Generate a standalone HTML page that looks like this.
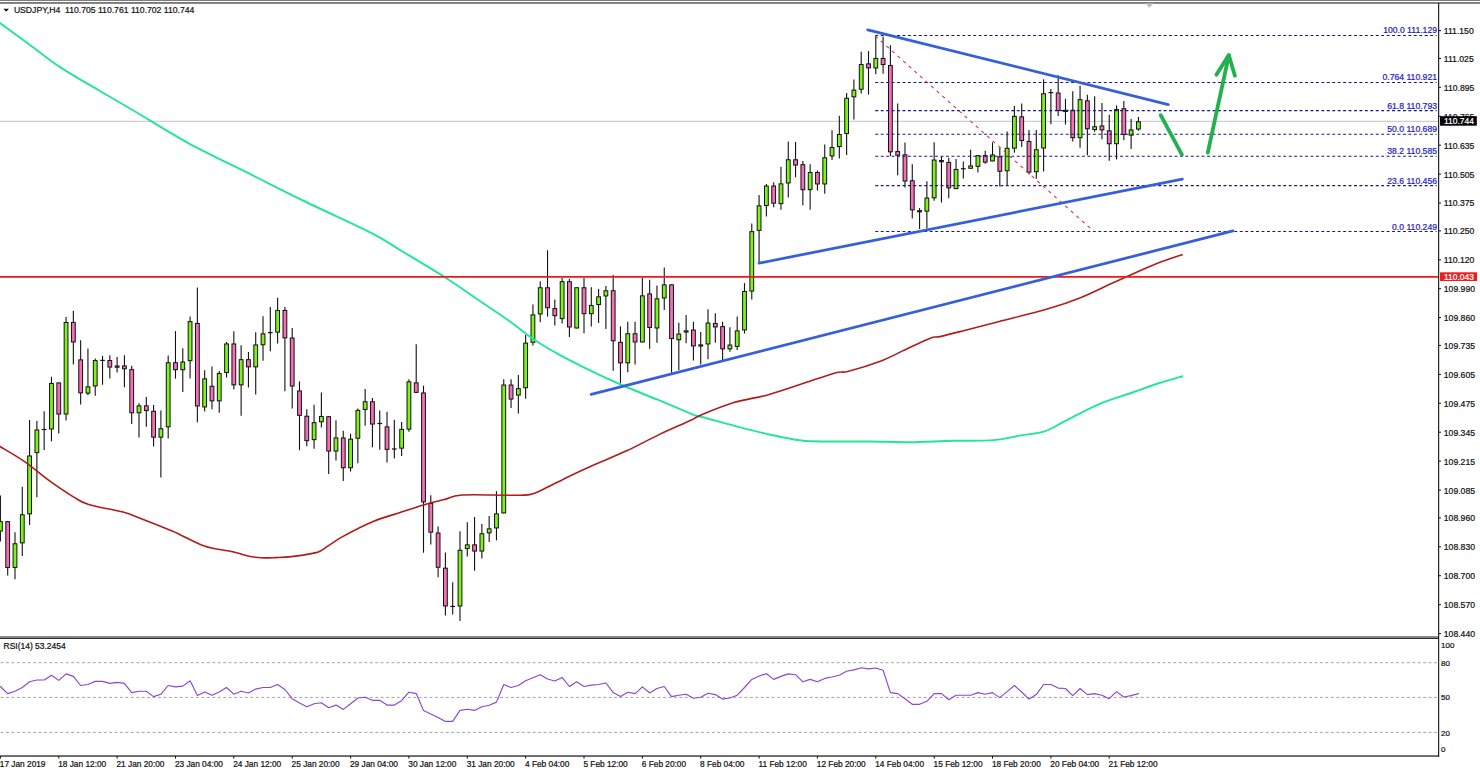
<!DOCTYPE html>
<html><head><meta charset="utf-8"><title>USDJPY H4</title>
<style>html,body{margin:0;padding:0;background:#fff;overflow:hidden}svg{display:block}</style></head>
<body>
<svg width="1480" height="772" viewBox="0 0 1480 772" font-family="Liberation Sans, Arial, sans-serif" font-size="8.65">
<rect width="1480" height="772" fill="#fff"/>
<rect x="0" y="0" width="1480" height="0.85" fill="#666"/>
<rect x="0" y="2.0" width="1480" height="1.85" fill="#787878"/>
<line x1="0" y1="121.3" x2="1438" y2="121.3" stroke="#c4c4c4" stroke-width="1"/>
<polygon points="1145.3,3.2 1153.5,3.2 1149.4,7.8" fill="#bdbdbd"/>
<line x1="0.40" y1="495.4" x2="0.40" y2="541.4" stroke="#111" stroke-width="1.1"/>
<rect x="-1.50" y="521.65" width="3.8" height="9.40" fill="#7CF418" stroke="#111" stroke-width="1"/>
<line x1="7.70" y1="521.2" x2="7.70" y2="575.5" stroke="#111" stroke-width="1.1"/>
<rect x="5.79" y="521.65" width="3.8" height="45.80" fill="#F56EB6" stroke="#111" stroke-width="1"/>
<line x1="14.99" y1="532.3" x2="14.99" y2="579.2" stroke="#111" stroke-width="1.1"/>
<rect x="13.09" y="543.75" width="3.8" height="23.70" fill="#7CF418" stroke="#111" stroke-width="1"/>
<line x1="22.28" y1="486.7" x2="22.28" y2="556.1" stroke="#111" stroke-width="1.1"/>
<rect x="20.38" y="514.75" width="3.8" height="28.10" fill="#7CF418" stroke="#111" stroke-width="1"/>
<line x1="29.58" y1="419.9" x2="29.58" y2="525.1" stroke="#111" stroke-width="1.1"/>
<rect x="27.68" y="455.95" width="3.8" height="57.90" fill="#7CF418" stroke="#111" stroke-width="1"/>
<line x1="36.88" y1="421.1" x2="36.88" y2="497.3" stroke="#111" stroke-width="1.1"/>
<rect x="34.98" y="429.95" width="3.8" height="22.70" fill="#7CF418" stroke="#111" stroke-width="1"/>
<line x1="44.17" y1="411.3" x2="44.17" y2="449.9" stroke="#111" stroke-width="1.1"/>
<line x1="41.82" y1="429.5" x2="46.52" y2="429.5" stroke="#111" stroke-width="1.2"/>
<line x1="51.46" y1="376.8" x2="51.46" y2="441.3" stroke="#111" stroke-width="1.1"/>
<rect x="49.56" y="383.45" width="3.8" height="45.60" fill="#7CF418" stroke="#111" stroke-width="1"/>
<line x1="58.76" y1="382.5" x2="58.76" y2="433.4" stroke="#111" stroke-width="1.1"/>
<rect x="56.86" y="382.95" width="3.8" height="31.10" fill="#F56EB6" stroke="#111" stroke-width="1"/>
<line x1="66.06" y1="317" x2="66.06" y2="420.4" stroke="#111" stroke-width="1.1"/>
<rect x="64.16" y="322.45" width="3.8" height="91.60" fill="#7CF418" stroke="#111" stroke-width="1"/>
<line x1="73.35" y1="310.7" x2="73.35" y2="364.5" stroke="#111" stroke-width="1.1"/>
<rect x="71.45" y="322.45" width="3.8" height="19.50" fill="#F56EB6" stroke="#111" stroke-width="1"/>
<line x1="80.65" y1="340.2" x2="80.65" y2="404.4" stroke="#111" stroke-width="1.1"/>
<rect x="78.75" y="359.85" width="3.8" height="33.00" fill="#F56EB6" stroke="#111" stroke-width="1"/>
<line x1="87.94" y1="348.5" x2="87.94" y2="395.3" stroke="#111" stroke-width="1.1"/>
<rect x="86.04" y="386.85" width="3.8" height="6.30" fill="#7CF418" stroke="#111" stroke-width="1"/>
<line x1="95.23" y1="358.4" x2="95.23" y2="395.8" stroke="#111" stroke-width="1.1"/>
<rect x="93.33" y="360.55" width="3.8" height="25.40" fill="#7CF418" stroke="#111" stroke-width="1"/>
<line x1="102.53" y1="355.9" x2="102.53" y2="384.7" stroke="#111" stroke-width="1.1"/>
<line x1="100.18" y1="360.4" x2="104.88" y2="360.4" stroke="#111" stroke-width="1.2"/>
<line x1="109.83" y1="355.2" x2="109.83" y2="378.6" stroke="#111" stroke-width="1.1"/>
<rect x="107.92" y="360.55" width="3.8" height="6.50" fill="#F56EB6" stroke="#111" stroke-width="1"/>
<line x1="117.12" y1="356.9" x2="117.12" y2="372.4" stroke="#111" stroke-width="1.1"/>
<rect x="115.22" y="365.95" width="3.8" height="1.30" fill="#7CF418" stroke="#111" stroke-width="1"/>
<line x1="124.42" y1="355.2" x2="124.42" y2="387.2" stroke="#111" stroke-width="1.1"/>
<rect x="122.52" y="365.95" width="3.8" height="2.80" fill="#F56EB6" stroke="#111" stroke-width="1"/>
<line x1="131.71" y1="365.8" x2="131.71" y2="424.1" stroke="#111" stroke-width="1.1"/>
<rect x="129.81" y="369.65" width="3.8" height="43.10" fill="#F56EB6" stroke="#111" stroke-width="1"/>
<line x1="139.00" y1="403.2" x2="139.00" y2="437.6" stroke="#111" stroke-width="1.1"/>
<rect x="137.10" y="405.85" width="3.8" height="6.90" fill="#7CF418" stroke="#111" stroke-width="1"/>
<line x1="146.30" y1="397" x2="146.30" y2="426.8" stroke="#111" stroke-width="1.1"/>
<rect x="144.40" y="405.85" width="3.8" height="4.70" fill="#F56EB6" stroke="#111" stroke-width="1"/>
<line x1="153.59" y1="405.1" x2="153.59" y2="446.5" stroke="#111" stroke-width="1.1"/>
<rect x="151.69" y="411.25" width="3.8" height="25.90" fill="#F56EB6" stroke="#111" stroke-width="1"/>
<line x1="160.89" y1="410.5" x2="160.89" y2="477.5" stroke="#111" stroke-width="1.1"/>
<rect x="158.99" y="428.75" width="3.8" height="8.40" fill="#7CF418" stroke="#111" stroke-width="1"/>
<line x1="168.19" y1="355.4" x2="168.19" y2="438.6" stroke="#111" stroke-width="1.1"/>
<rect x="166.28" y="362.75" width="3.8" height="64.10" fill="#7CF418" stroke="#111" stroke-width="1"/>
<line x1="175.48" y1="331.1" x2="175.48" y2="378.6" stroke="#111" stroke-width="1.1"/>
<rect x="173.58" y="362.75" width="3.8" height="7.00" fill="#F56EB6" stroke="#111" stroke-width="1"/>
<line x1="182.78" y1="348.3" x2="182.78" y2="392.1" stroke="#111" stroke-width="1.1"/>
<rect x="180.88" y="362.05" width="3.8" height="7.70" fill="#7CF418" stroke="#111" stroke-width="1"/>
<line x1="190.07" y1="316.6" x2="190.07" y2="378.6" stroke="#111" stroke-width="1.1"/>
<rect x="188.17" y="321.65" width="3.8" height="39.00" fill="#7CF418" stroke="#111" stroke-width="1"/>
<line x1="197.37" y1="287.4" x2="197.37" y2="422.2" stroke="#111" stroke-width="1.1"/>
<rect x="195.47" y="323.45" width="3.8" height="82.50" fill="#F56EB6" stroke="#111" stroke-width="1"/>
<line x1="204.66" y1="370.3" x2="204.66" y2="411.6" stroke="#111" stroke-width="1.1"/>
<rect x="202.76" y="378.85" width="3.8" height="28.10" fill="#7CF418" stroke="#111" stroke-width="1"/>
<line x1="211.96" y1="366.6" x2="211.96" y2="409.2" stroke="#111" stroke-width="1.1"/>
<rect x="210.06" y="386.25" width="3.8" height="14.60" fill="#F56EB6" stroke="#111" stroke-width="1"/>
<line x1="219.25" y1="371" x2="219.25" y2="412.8" stroke="#111" stroke-width="1.1"/>
<rect x="217.35" y="373.45" width="3.8" height="27.40" fill="#7CF418" stroke="#111" stroke-width="1"/>
<line x1="226.55" y1="342" x2="226.55" y2="377.4" stroke="#111" stroke-width="1.1"/>
<rect x="224.65" y="343.95" width="3.8" height="28.60" fill="#7CF418" stroke="#111" stroke-width="1"/>
<line x1="233.84" y1="331.2" x2="233.84" y2="389.5" stroke="#111" stroke-width="1.1"/>
<rect x="231.94" y="343.95" width="3.8" height="40.90" fill="#F56EB6" stroke="#111" stroke-width="1"/>
<line x1="241.13" y1="345.2" x2="241.13" y2="415.8" stroke="#111" stroke-width="1.1"/>
<rect x="239.23" y="359.65" width="3.8" height="25.20" fill="#7CF418" stroke="#111" stroke-width="1"/>
<line x1="248.43" y1="352.1" x2="248.43" y2="387.5" stroke="#111" stroke-width="1.1"/>
<rect x="246.53" y="359.65" width="3.8" height="7.20" fill="#F56EB6" stroke="#111" stroke-width="1"/>
<line x1="255.72" y1="332.2" x2="255.72" y2="394.4" stroke="#111" stroke-width="1.1"/>
<rect x="253.82" y="344.95" width="3.8" height="21.90" fill="#7CF418" stroke="#111" stroke-width="1"/>
<line x1="263.02" y1="316.2" x2="263.02" y2="360.7" stroke="#111" stroke-width="1.1"/>
<rect x="261.12" y="333.85" width="3.8" height="10.90" fill="#7CF418" stroke="#111" stroke-width="1"/>
<line x1="270.31" y1="307.1" x2="270.31" y2="351.3" stroke="#111" stroke-width="1.1"/>
<line x1="267.96" y1="332.6" x2="272.67" y2="332.6" stroke="#111" stroke-width="1.2"/>
<line x1="277.61" y1="297.7" x2="277.61" y2="343.5" stroke="#111" stroke-width="1.1"/>
<rect x="275.71" y="310.45" width="3.8" height="21.70" fill="#7CF418" stroke="#111" stroke-width="1"/>
<line x1="284.90" y1="307.1" x2="284.90" y2="391.2" stroke="#111" stroke-width="1.1"/>
<rect x="283.00" y="310.45" width="3.8" height="27.40" fill="#F56EB6" stroke="#111" stroke-width="1"/>
<line x1="292.20" y1="328" x2="292.20" y2="408.4" stroke="#111" stroke-width="1.1"/>
<rect x="290.30" y="338.05" width="3.8" height="48.00" fill="#F56EB6" stroke="#111" stroke-width="1"/>
<line x1="299.49" y1="381.4" x2="299.49" y2="450.2" stroke="#111" stroke-width="1.1"/>
<rect x="297.59" y="390.95" width="3.8" height="24.40" fill="#F56EB6" stroke="#111" stroke-width="1"/>
<line x1="306.79" y1="409.2" x2="306.79" y2="446.3" stroke="#111" stroke-width="1.1"/>
<rect x="304.89" y="416.25" width="3.8" height="24.40" fill="#F56EB6" stroke="#111" stroke-width="1"/>
<line x1="314.08" y1="404.7" x2="314.08" y2="448.8" stroke="#111" stroke-width="1.1"/>
<rect x="312.19" y="422.65" width="3.8" height="17.00" fill="#7CF418" stroke="#111" stroke-width="1"/>
<line x1="321.38" y1="392.4" x2="321.38" y2="427.6" stroke="#111" stroke-width="1.1"/>
<rect x="319.48" y="416.45" width="3.8" height="5.30" fill="#7CF418" stroke="#111" stroke-width="1"/>
<line x1="328.67" y1="416" x2="328.67" y2="474.1" stroke="#111" stroke-width="1.1"/>
<rect x="326.77" y="416.65" width="3.8" height="34.40" fill="#F56EB6" stroke="#111" stroke-width="1"/>
<line x1="335.97" y1="420.3" x2="335.97" y2="460.4" stroke="#111" stroke-width="1.1"/>
<rect x="334.07" y="437.95" width="3.8" height="13.10" fill="#7CF418" stroke="#111" stroke-width="1"/>
<line x1="343.26" y1="430.8" x2="343.26" y2="481" stroke="#111" stroke-width="1.1"/>
<rect x="341.37" y="437.95" width="3.8" height="29.80" fill="#F56EB6" stroke="#111" stroke-width="1"/>
<line x1="350.56" y1="433.8" x2="350.56" y2="471.4" stroke="#111" stroke-width="1.1"/>
<rect x="348.66" y="439.15" width="3.8" height="28.60" fill="#7CF418" stroke="#111" stroke-width="1"/>
<line x1="357.85" y1="408.5" x2="357.85" y2="463.3" stroke="#111" stroke-width="1.1"/>
<rect x="355.95" y="410.35" width="3.8" height="27.90" fill="#7CF418" stroke="#111" stroke-width="1"/>
<line x1="365.15" y1="389" x2="365.15" y2="425.7" stroke="#111" stroke-width="1.1"/>
<rect x="363.25" y="401.75" width="3.8" height="7.70" fill="#7CF418" stroke="#111" stroke-width="1"/>
<line x1="372.44" y1="398.1" x2="372.44" y2="447.3" stroke="#111" stroke-width="1.1"/>
<rect x="370.55" y="401.75" width="3.8" height="22.30" fill="#F56EB6" stroke="#111" stroke-width="1"/>
<line x1="379.74" y1="410.4" x2="379.74" y2="449.8" stroke="#111" stroke-width="1.1"/>
<line x1="377.39" y1="423.5" x2="382.09" y2="423.5" stroke="#111" stroke-width="1.2"/>
<line x1="387.03" y1="411.7" x2="387.03" y2="462.6" stroke="#111" stroke-width="1.1"/>
<rect x="385.13" y="426.85" width="3.8" height="22.50" fill="#F56EB6" stroke="#111" stroke-width="1"/>
<line x1="394.33" y1="419.8" x2="394.33" y2="458.4" stroke="#111" stroke-width="1.1"/>
<line x1="391.98" y1="449.0" x2="396.68" y2="449.0" stroke="#111" stroke-width="1.2"/>
<line x1="401.62" y1="422" x2="401.62" y2="455.9" stroke="#111" stroke-width="1.1"/>
<rect x="399.73" y="429.35" width="3.8" height="18.80" fill="#7CF418" stroke="#111" stroke-width="1"/>
<line x1="408.92" y1="379.2" x2="408.92" y2="431.8" stroke="#111" stroke-width="1.1"/>
<rect x="407.02" y="381.85" width="3.8" height="47.30" fill="#7CF418" stroke="#111" stroke-width="1"/>
<line x1="416.21" y1="344.3" x2="416.21" y2="392.8" stroke="#111" stroke-width="1.1"/>
<rect x="414.31" y="382.85" width="3.8" height="9.50" fill="#F56EB6" stroke="#111" stroke-width="1"/>
<line x1="423.51" y1="385.7" x2="423.51" y2="552.7" stroke="#111" stroke-width="1.1"/>
<rect x="421.61" y="392.95" width="3.8" height="108.90" fill="#F56EB6" stroke="#111" stroke-width="1"/>
<line x1="430.80" y1="495.2" x2="430.80" y2="544.4" stroke="#111" stroke-width="1.1"/>
<rect x="428.90" y="503.45" width="3.8" height="28.70" fill="#F56EB6" stroke="#111" stroke-width="1"/>
<line x1="438.10" y1="526.4" x2="438.10" y2="577.3" stroke="#111" stroke-width="1.1"/>
<rect x="436.20" y="533.05" width="3.8" height="34.20" fill="#F56EB6" stroke="#111" stroke-width="1"/>
<line x1="445.39" y1="552.5" x2="445.39" y2="615.5" stroke="#111" stroke-width="1.1"/>
<rect x="443.50" y="568.15" width="3.8" height="37.80" fill="#F56EB6" stroke="#111" stroke-width="1"/>
<line x1="452.69" y1="582.3" x2="452.69" y2="614.5" stroke="#111" stroke-width="1.1"/>
<line x1="450.34" y1="606.4" x2="455.04" y2="606.4" stroke="#111" stroke-width="1.2"/>
<line x1="459.98" y1="531.3" x2="459.98" y2="621.1" stroke="#111" stroke-width="1.1"/>
<rect x="458.08" y="550.25" width="3.8" height="55.70" fill="#7CF418" stroke="#111" stroke-width="1"/>
<line x1="467.28" y1="522.2" x2="467.28" y2="556.4" stroke="#111" stroke-width="1.1"/>
<rect x="465.38" y="544.85" width="3.8" height="3.70" fill="#7CF418" stroke="#111" stroke-width="1"/>
<line x1="474.57" y1="517" x2="474.57" y2="570.7" stroke="#111" stroke-width="1.1"/>
<rect x="472.68" y="544.85" width="3.8" height="6.20" fill="#F56EB6" stroke="#111" stroke-width="1"/>
<line x1="481.87" y1="524" x2="481.87" y2="558.4" stroke="#111" stroke-width="1.1"/>
<rect x="479.97" y="533.75" width="3.8" height="17.30" fill="#7CF418" stroke="#111" stroke-width="1"/>
<line x1="489.16" y1="516" x2="489.16" y2="541.9" stroke="#111" stroke-width="1.1"/>
<rect x="487.26" y="528.85" width="3.8" height="4.00" fill="#7CF418" stroke="#111" stroke-width="1"/>
<line x1="496.46" y1="491.2" x2="496.46" y2="540.4" stroke="#111" stroke-width="1.1"/>
<rect x="494.56" y="513.85" width="3.8" height="14.10" fill="#7CF418" stroke="#111" stroke-width="1"/>
<line x1="503.75" y1="379.2" x2="503.75" y2="513.4" stroke="#111" stroke-width="1.1"/>
<rect x="501.86" y="385.05" width="3.8" height="127.90" fill="#7CF418" stroke="#111" stroke-width="1"/>
<line x1="511.05" y1="379.2" x2="511.05" y2="408" stroke="#111" stroke-width="1.1"/>
<rect x="509.15" y="385.05" width="3.8" height="14.00" fill="#F56EB6" stroke="#111" stroke-width="1"/>
<line x1="518.35" y1="374.9" x2="518.35" y2="413.5" stroke="#111" stroke-width="1.1"/>
<rect x="516.45" y="388.65" width="3.8" height="6.40" fill="#7CF418" stroke="#111" stroke-width="1"/>
<line x1="525.64" y1="335" x2="525.64" y2="398.8" stroke="#111" stroke-width="1.1"/>
<rect x="523.74" y="343.15" width="3.8" height="44.60" fill="#7CF418" stroke="#111" stroke-width="1"/>
<line x1="532.93" y1="304.5" x2="532.93" y2="345.6" stroke="#111" stroke-width="1.1"/>
<rect x="531.03" y="314.85" width="3.8" height="27.40" fill="#7CF418" stroke="#111" stroke-width="1"/>
<line x1="540.23" y1="281.2" x2="540.23" y2="322.3" stroke="#111" stroke-width="1.1"/>
<rect x="538.33" y="287.75" width="3.8" height="26.20" fill="#7CF418" stroke="#111" stroke-width="1"/>
<line x1="547.52" y1="250.2" x2="547.52" y2="316.6" stroke="#111" stroke-width="1.1"/>
<rect x="545.62" y="287.75" width="3.8" height="20.00" fill="#F56EB6" stroke="#111" stroke-width="1"/>
<line x1="554.82" y1="299.4" x2="554.82" y2="325.4" stroke="#111" stroke-width="1.1"/>
<rect x="552.92" y="308.65" width="3.8" height="7.00" fill="#F56EB6" stroke="#111" stroke-width="1"/>
<line x1="562.12" y1="278" x2="562.12" y2="323.5" stroke="#111" stroke-width="1.1"/>
<rect x="560.22" y="281.65" width="3.8" height="37.00" fill="#7CF418" stroke="#111" stroke-width="1"/>
<line x1="569.41" y1="278.7" x2="569.41" y2="337" stroke="#111" stroke-width="1.1"/>
<rect x="567.51" y="281.65" width="3.8" height="45.30" fill="#F56EB6" stroke="#111" stroke-width="1"/>
<line x1="576.70" y1="287.3" x2="576.70" y2="328.4" stroke="#111" stroke-width="1.1"/>
<rect x="574.80" y="287.75" width="3.8" height="40.20" fill="#7CF418" stroke="#111" stroke-width="1"/>
<line x1="584.00" y1="278" x2="584.00" y2="333.3" stroke="#111" stroke-width="1.1"/>
<rect x="582.10" y="287.75" width="3.8" height="25.90" fill="#F56EB6" stroke="#111" stroke-width="1"/>
<line x1="591.29" y1="287.3" x2="591.29" y2="326.4" stroke="#111" stroke-width="1.1"/>
<rect x="589.39" y="305.45" width="3.8" height="8.20" fill="#7CF418" stroke="#111" stroke-width="1"/>
<line x1="598.59" y1="289" x2="598.59" y2="323" stroke="#111" stroke-width="1.1"/>
<rect x="596.69" y="296.85" width="3.8" height="7.70" fill="#7CF418" stroke="#111" stroke-width="1"/>
<line x1="605.88" y1="286.1" x2="605.88" y2="329.1" stroke="#111" stroke-width="1.1"/>
<rect x="603.99" y="290.75" width="3.8" height="5.20" fill="#7CF418" stroke="#111" stroke-width="1"/>
<line x1="613.18" y1="275" x2="613.18" y2="370.7" stroke="#111" stroke-width="1.1"/>
<rect x="611.28" y="290.75" width="3.8" height="50.00" fill="#F56EB6" stroke="#111" stroke-width="1"/>
<line x1="620.48" y1="326.4" x2="620.48" y2="383" stroke="#111" stroke-width="1.1"/>
<rect x="618.58" y="342.35" width="3.8" height="20.50" fill="#F56EB6" stroke="#111" stroke-width="1"/>
<line x1="627.77" y1="321.8" x2="627.77" y2="372.2" stroke="#111" stroke-width="1.1"/>
<rect x="625.87" y="333.75" width="3.8" height="29.10" fill="#7CF418" stroke="#111" stroke-width="1"/>
<line x1="635.06" y1="321.8" x2="635.06" y2="364.6" stroke="#111" stroke-width="1.1"/>
<rect x="633.16" y="333.75" width="3.8" height="8.20" fill="#F56EB6" stroke="#111" stroke-width="1"/>
<line x1="642.36" y1="278" x2="642.36" y2="342.4" stroke="#111" stroke-width="1.1"/>
<rect x="640.46" y="295.85" width="3.8" height="46.10" fill="#7CF418" stroke="#111" stroke-width="1"/>
<line x1="649.65" y1="279.7" x2="649.65" y2="348.8" stroke="#111" stroke-width="1.1"/>
<rect x="647.75" y="293.95" width="3.8" height="33.50" fill="#F56EB6" stroke="#111" stroke-width="1"/>
<line x1="656.95" y1="285.4" x2="656.95" y2="342.7" stroke="#111" stroke-width="1.1"/>
<rect x="655.05" y="298.85" width="3.8" height="29.10" fill="#7CF418" stroke="#111" stroke-width="1"/>
<line x1="664.25" y1="267.4" x2="664.25" y2="310" stroke="#111" stroke-width="1.1"/>
<rect x="662.35" y="284.85" width="3.8" height="13.10" fill="#7CF418" stroke="#111" stroke-width="1"/>
<line x1="671.54" y1="284.4" x2="671.54" y2="372.7" stroke="#111" stroke-width="1.1"/>
<rect x="669.64" y="284.85" width="3.8" height="53.70" fill="#F56EB6" stroke="#111" stroke-width="1"/>
<line x1="678.83" y1="322.7" x2="678.83" y2="370.2" stroke="#111" stroke-width="1.1"/>
<rect x="676.93" y="334.05" width="3.8" height="5.70" fill="#7CF418" stroke="#111" stroke-width="1"/>
<line x1="686.13" y1="314.9" x2="686.13" y2="343.2" stroke="#111" stroke-width="1.1"/>
<rect x="684.23" y="330.85" width="3.8" height="1.20" fill="#7CF418" stroke="#111" stroke-width="1"/>
<line x1="693.42" y1="321.8" x2="693.42" y2="360.4" stroke="#111" stroke-width="1.1"/>
<rect x="691.52" y="330.05" width="3.8" height="15.90" fill="#F56EB6" stroke="#111" stroke-width="1"/>
<line x1="700.72" y1="332.1" x2="700.72" y2="364.5" stroke="#111" stroke-width="1.1"/>
<rect x="698.82" y="344.85" width="3.8" height="1.20" fill="#7CF418" stroke="#111" stroke-width="1"/>
<line x1="708.01" y1="309.3" x2="708.01" y2="359.3" stroke="#111" stroke-width="1.1"/>
<rect x="706.12" y="323.05" width="3.8" height="20.90" fill="#7CF418" stroke="#111" stroke-width="1"/>
<line x1="715.31" y1="313.2" x2="715.31" y2="342.7" stroke="#111" stroke-width="1.1"/>
<rect x="713.41" y="323.45" width="3.8" height="3.50" fill="#F56EB6" stroke="#111" stroke-width="1"/>
<line x1="722.61" y1="321.8" x2="722.61" y2="359.9" stroke="#111" stroke-width="1.1"/>
<rect x="720.71" y="326.65" width="3.8" height="22.20" fill="#F56EB6" stroke="#111" stroke-width="1"/>
<line x1="729.90" y1="327.2" x2="729.90" y2="351.8" stroke="#111" stroke-width="1.1"/>
<rect x="728.00" y="345.05" width="3.8" height="3.80" fill="#7CF418" stroke="#111" stroke-width="1"/>
<line x1="737.19" y1="316.4" x2="737.19" y2="350.1" stroke="#111" stroke-width="1.1"/>
<rect x="735.29" y="330.85" width="3.8" height="15.60" fill="#7CF418" stroke="#111" stroke-width="1"/>
<line x1="744.49" y1="283.1" x2="744.49" y2="333.6" stroke="#111" stroke-width="1.1"/>
<rect x="742.59" y="291.45" width="3.8" height="38.50" fill="#7CF418" stroke="#111" stroke-width="1"/>
<line x1="751.78" y1="223.4" x2="751.78" y2="299.6" stroke="#111" stroke-width="1.1"/>
<rect x="749.88" y="231.65" width="3.8" height="59.40" fill="#7CF418" stroke="#111" stroke-width="1"/>
<line x1="759.08" y1="195" x2="759.08" y2="262.7" stroke="#111" stroke-width="1.1"/>
<rect x="757.18" y="205.85" width="3.8" height="24.50" fill="#7CF418" stroke="#111" stroke-width="1"/>
<line x1="766.38" y1="183.9" x2="766.38" y2="216.6" stroke="#111" stroke-width="1.1"/>
<rect x="764.48" y="186.05" width="3.8" height="19.50" fill="#7CF418" stroke="#111" stroke-width="1"/>
<line x1="773.67" y1="182.2" x2="773.67" y2="207.3" stroke="#111" stroke-width="1.1"/>
<rect x="771.77" y="186.05" width="3.8" height="17.10" fill="#F56EB6" stroke="#111" stroke-width="1"/>
<line x1="780.96" y1="166.7" x2="780.96" y2="209.7" stroke="#111" stroke-width="1.1"/>
<rect x="779.06" y="183.85" width="3.8" height="19.80" fill="#7CF418" stroke="#111" stroke-width="1"/>
<line x1="788.26" y1="141.4" x2="788.26" y2="197.4" stroke="#111" stroke-width="1.1"/>
<rect x="786.36" y="159.75" width="3.8" height="23.20" fill="#7CF418" stroke="#111" stroke-width="1"/>
<line x1="795.55" y1="142.1" x2="795.55" y2="177.3" stroke="#111" stroke-width="1.1"/>
<rect x="793.65" y="159.75" width="3.8" height="5.30" fill="#F56EB6" stroke="#111" stroke-width="1"/>
<line x1="802.85" y1="161" x2="802.85" y2="205.3" stroke="#111" stroke-width="1.1"/>
<rect x="800.95" y="164.65" width="3.8" height="25.00" fill="#F56EB6" stroke="#111" stroke-width="1"/>
<line x1="810.14" y1="164.2" x2="810.14" y2="209.7" stroke="#111" stroke-width="1.1"/>
<rect x="808.25" y="172.55" width="3.8" height="17.10" fill="#7CF418" stroke="#111" stroke-width="1"/>
<line x1="817.44" y1="170.4" x2="817.44" y2="190.6" stroke="#111" stroke-width="1.1"/>
<rect x="815.54" y="172.55" width="3.8" height="11.40" fill="#F56EB6" stroke="#111" stroke-width="1"/>
<line x1="824.74" y1="144.6" x2="824.74" y2="193.8" stroke="#111" stroke-width="1.1"/>
<rect x="822.84" y="157.75" width="3.8" height="26.20" fill="#7CF418" stroke="#111" stroke-width="1"/>
<line x1="832.03" y1="130.3" x2="832.03" y2="160" stroke="#111" stroke-width="1.1"/>
<rect x="830.13" y="147.45" width="3.8" height="8.50" fill="#7CF418" stroke="#111" stroke-width="1"/>
<line x1="839.32" y1="115.8" x2="839.32" y2="158.6" stroke="#111" stroke-width="1.1"/>
<rect x="837.42" y="134.45" width="3.8" height="12.10" fill="#7CF418" stroke="#111" stroke-width="1"/>
<line x1="846.62" y1="93.1" x2="846.62" y2="154.9" stroke="#111" stroke-width="1.1"/>
<rect x="844.72" y="98.25" width="3.8" height="35.30" fill="#7CF418" stroke="#111" stroke-width="1"/>
<line x1="853.91" y1="79.4" x2="853.91" y2="119.5" stroke="#111" stroke-width="1.1"/>
<rect x="852.01" y="90.15" width="3.8" height="6.70" fill="#7CF418" stroke="#111" stroke-width="1"/>
<line x1="861.21" y1="51.8" x2="861.21" y2="93.6" stroke="#111" stroke-width="1.1"/>
<rect x="859.31" y="64.55" width="3.8" height="24.70" fill="#7CF418" stroke="#111" stroke-width="1"/>
<line x1="868.50" y1="51.1" x2="868.50" y2="94.6" stroke="#111" stroke-width="1.1"/>
<rect x="866.61" y="63.85" width="3.8" height="4.00" fill="#F56EB6" stroke="#111" stroke-width="1"/>
<line x1="875.80" y1="35.9" x2="875.80" y2="74.2" stroke="#111" stroke-width="1.1"/>
<rect x="873.90" y="58.45" width="3.8" height="9.50" fill="#7CF418" stroke="#111" stroke-width="1"/>
<line x1="883.09" y1="36.6" x2="883.09" y2="73.7" stroke="#111" stroke-width="1.1"/>
<rect x="881.19" y="58.45" width="3.8" height="6.10" fill="#F56EB6" stroke="#111" stroke-width="1"/>
<line x1="890.39" y1="45.2" x2="890.39" y2="156.3" stroke="#111" stroke-width="1.1"/>
<rect x="888.49" y="65.45" width="3.8" height="86.40" fill="#F56EB6" stroke="#111" stroke-width="1"/>
<line x1="897.68" y1="103.5" x2="897.68" y2="175.3" stroke="#111" stroke-width="1.1"/>
<rect x="895.78" y="151.55" width="3.8" height="3.70" fill="#F56EB6" stroke="#111" stroke-width="1"/>
<line x1="904.98" y1="142.5" x2="904.98" y2="187.4" stroke="#111" stroke-width="1.1"/>
<rect x="903.08" y="154.85" width="3.8" height="26.20" fill="#F56EB6" stroke="#111" stroke-width="1"/>
<line x1="912.27" y1="164.2" x2="912.27" y2="218.5" stroke="#111" stroke-width="1.1"/>
<rect x="910.38" y="180.75" width="3.8" height="29.10" fill="#F56EB6" stroke="#111" stroke-width="1"/>
<line x1="919.57" y1="208" x2="919.57" y2="229.1" stroke="#111" stroke-width="1.1"/>
<rect x="917.67" y="210.65" width="3.8" height="1.20" fill="#F56EB6" stroke="#111" stroke-width="1"/>
<line x1="926.87" y1="181.2" x2="926.87" y2="228.4" stroke="#111" stroke-width="1.1"/>
<rect x="924.97" y="198.05" width="3.8" height="13.10" fill="#7CF418" stroke="#111" stroke-width="1"/>
<line x1="934.16" y1="142.3" x2="934.16" y2="200.7" stroke="#111" stroke-width="1.1"/>
<rect x="932.26" y="160.05" width="3.8" height="37.80" fill="#7CF418" stroke="#111" stroke-width="1"/>
<line x1="941.45" y1="156.4" x2="941.45" y2="202.5" stroke="#111" stroke-width="1.1"/>
<rect x="939.55" y="160.55" width="3.8" height="1.20" fill="#F56EB6" stroke="#111" stroke-width="1"/>
<line x1="948.75" y1="157.7" x2="948.75" y2="198.3" stroke="#111" stroke-width="1.1"/>
<rect x="946.85" y="162.45" width="3.8" height="25.40" fill="#F56EB6" stroke="#111" stroke-width="1"/>
<line x1="956.04" y1="158.9" x2="956.04" y2="189.1" stroke="#111" stroke-width="1.1"/>
<rect x="954.14" y="169.45" width="3.8" height="19.20" fill="#7CF418" stroke="#111" stroke-width="1"/>
<line x1="963.34" y1="161.4" x2="963.34" y2="178.6" stroke="#111" stroke-width="1.1"/>
<line x1="960.99" y1="168.7" x2="965.69" y2="168.7" stroke="#111" stroke-width="1.2"/>
<line x1="970.63" y1="149.8" x2="970.63" y2="168.7" stroke="#111" stroke-width="1.1"/>
<rect x="968.74" y="165.95" width="3.8" height="2.30" fill="#7CF418" stroke="#111" stroke-width="1"/>
<line x1="977.93" y1="155.2" x2="977.93" y2="172.4" stroke="#111" stroke-width="1.1"/>
<rect x="976.03" y="155.65" width="3.8" height="10.70" fill="#7CF418" stroke="#111" stroke-width="1"/>
<line x1="985.23" y1="150.8" x2="985.23" y2="163.8" stroke="#111" stroke-width="1.1"/>
<rect x="983.33" y="155.65" width="3.8" height="6.50" fill="#F56EB6" stroke="#111" stroke-width="1"/>
<line x1="992.52" y1="142.4" x2="992.52" y2="161.4" stroke="#111" stroke-width="1.1"/>
<rect x="990.62" y="154.95" width="3.8" height="6.00" fill="#7CF418" stroke="#111" stroke-width="1"/>
<line x1="999.81" y1="147.8" x2="999.81" y2="186.5" stroke="#111" stroke-width="1.1"/>
<rect x="997.91" y="156.85" width="3.8" height="14.40" fill="#F56EB6" stroke="#111" stroke-width="1"/>
<line x1="1007.11" y1="131.4" x2="1007.11" y2="185.2" stroke="#111" stroke-width="1.1"/>
<rect x="1005.21" y="148.25" width="3.8" height="22.50" fill="#7CF418" stroke="#111" stroke-width="1"/>
<line x1="1014.40" y1="106" x2="1014.40" y2="152.8" stroke="#111" stroke-width="1.1"/>
<rect x="1012.50" y="116.35" width="3.8" height="31.80" fill="#7CF418" stroke="#111" stroke-width="1"/>
<line x1="1021.70" y1="103.5" x2="1021.70" y2="146.9" stroke="#111" stroke-width="1.1"/>
<rect x="1019.80" y="116.85" width="3.8" height="23.70" fill="#F56EB6" stroke="#111" stroke-width="1"/>
<line x1="1029.00" y1="130" x2="1029.00" y2="174.5" stroke="#111" stroke-width="1.1"/>
<rect x="1027.10" y="141.45" width="3.8" height="30.70" fill="#F56EB6" stroke="#111" stroke-width="1"/>
<line x1="1036.29" y1="130" x2="1036.29" y2="178.7" stroke="#111" stroke-width="1.1"/>
<rect x="1034.39" y="149.75" width="3.8" height="22.00" fill="#7CF418" stroke="#111" stroke-width="1"/>
<line x1="1043.59" y1="79.2" x2="1043.59" y2="171.5" stroke="#111" stroke-width="1.1"/>
<rect x="1041.68" y="93.75" width="3.8" height="54.30" fill="#7CF418" stroke="#111" stroke-width="1"/>
<line x1="1050.88" y1="88.9" x2="1050.88" y2="124.3" stroke="#111" stroke-width="1.1"/>
<line x1="1048.53" y1="92.6" x2="1053.23" y2="92.6" stroke="#111" stroke-width="1.2"/>
<line x1="1058.18" y1="75.3" x2="1058.18" y2="115.9" stroke="#111" stroke-width="1.1"/>
<rect x="1056.28" y="93.05" width="3.8" height="17.50" fill="#F56EB6" stroke="#111" stroke-width="1"/>
<line x1="1065.47" y1="98.7" x2="1065.47" y2="124.5" stroke="#111" stroke-width="1.1"/>
<rect x="1063.57" y="110.25" width="3.8" height="1.20" fill="#7CF418" stroke="#111" stroke-width="1"/>
<line x1="1072.77" y1="91.3" x2="1072.77" y2="141.5" stroke="#111" stroke-width="1.1"/>
<rect x="1070.87" y="110.25" width="3.8" height="27.40" fill="#F56EB6" stroke="#111" stroke-width="1"/>
<line x1="1080.06" y1="85.7" x2="1080.06" y2="147.7" stroke="#111" stroke-width="1.1"/>
<rect x="1078.16" y="99.65" width="3.8" height="38.00" fill="#7CF418" stroke="#111" stroke-width="1"/>
<line x1="1087.36" y1="94.8" x2="1087.36" y2="155.3" stroke="#111" stroke-width="1.1"/>
<rect x="1085.45" y="100.85" width="3.8" height="27.90" fill="#F56EB6" stroke="#111" stroke-width="1"/>
<line x1="1094.65" y1="96.2" x2="1094.65" y2="131.7" stroke="#111" stroke-width="1.1"/>
<rect x="1092.75" y="126.75" width="3.8" height="2.80" fill="#7CF418" stroke="#111" stroke-width="1"/>
<line x1="1101.95" y1="102.9" x2="1101.95" y2="139.3" stroke="#111" stroke-width="1.1"/>
<rect x="1100.05" y="125.95" width="3.8" height="4.00" fill="#F56EB6" stroke="#111" stroke-width="1"/>
<line x1="1109.24" y1="114.7" x2="1109.24" y2="160.7" stroke="#111" stroke-width="1.1"/>
<rect x="1107.34" y="130.85" width="3.8" height="12.90" fill="#F56EB6" stroke="#111" stroke-width="1"/>
<line x1="1116.54" y1="105.4" x2="1116.54" y2="159.5" stroke="#111" stroke-width="1.1"/>
<rect x="1114.63" y="109.45" width="3.8" height="34.30" fill="#7CF418" stroke="#111" stroke-width="1"/>
<line x1="1123.83" y1="100.9" x2="1123.83" y2="140.3" stroke="#111" stroke-width="1.1"/>
<rect x="1121.93" y="108.75" width="3.8" height="25.70" fill="#F56EB6" stroke="#111" stroke-width="1"/>
<line x1="1131.12" y1="118.9" x2="1131.12" y2="149.1" stroke="#111" stroke-width="1.1"/>
<rect x="1129.22" y="129.95" width="3.8" height="5.20" fill="#7CF418" stroke="#111" stroke-width="1"/>
<line x1="1138.42" y1="116.9" x2="1138.42" y2="130.7" stroke="#111" stroke-width="1.1"/>
<rect x="1136.52" y="121.75" width="3.8" height="7.30" fill="#7CF418" stroke="#111" stroke-width="1"/>
<path d="M0.0,23.0 C5.0,26.7 19.9,37.6 30.0,45.0 C40.1,52.4 49.1,59.9 60.8,67.6 C72.5,75.3 87.6,83.7 100.0,91.0 C112.4,98.3 120.2,102.7 135.1,111.5 C150.0,120.3 169.5,132.9 189.2,143.6 C208.9,154.3 234.3,166.1 253.4,175.7 C272.5,185.3 284.3,191.4 304.0,201.0 C323.7,210.6 355.6,224.9 371.6,233.1 C387.6,241.3 387.7,242.6 400.0,250.0 C412.3,257.4 431.8,268.9 445.3,277.5 C458.8,286.1 470.2,294.5 481.0,301.8 C491.8,309.1 501.1,315.1 510.0,321.5 C518.9,327.9 526.4,334.5 534.6,340.0 C542.8,345.5 551.0,350.1 559.2,354.7 C567.4,359.2 573.5,362.3 583.8,367.3 C594.0,372.3 608.4,379.1 620.7,384.5 C633.0,389.9 645.3,394.6 657.6,399.7 C669.9,404.8 687.2,412.3 694.5,415.2 C701.8,418.1 694.7,415.1 701.2,416.8 C707.8,418.5 722.7,422.7 733.8,425.6 C744.9,428.5 756.3,431.6 767.6,434.1 C778.9,436.6 791.0,439.3 801.4,440.5 C811.8,441.7 818.8,441.3 830.0,441.5 C841.2,441.7 855.6,441.4 868.9,441.5 C882.1,441.6 895.4,442.3 909.5,442.2 C923.6,442.1 939.3,441.1 953.4,440.8 C967.5,440.5 982.6,441.0 993.9,440.1 C1005.1,439.2 1012.5,436.8 1020.9,435.4 C1029.3,433.9 1037.3,433.8 1044.6,431.4 C1051.9,429.0 1055.9,425.7 1064.9,421.2 C1073.9,416.7 1087.3,409.1 1098.6,404.3 C1109.8,399.5 1122.2,396.1 1132.4,392.5 C1142.6,388.9 1151.2,385.7 1159.5,383.0 C1167.8,380.3 1178.6,377.4 1182.4,376.3" fill="none" stroke="#22e69a" stroke-width="1.95" stroke-linecap="round" stroke-linejoin="round"/>
<path d="M0.0,446.5 C4.1,449.0 16.4,455.9 24.6,461.6 C32.8,467.3 41.0,474.7 49.2,480.6 C57.4,486.5 67.2,493.1 73.8,497.1 C80.4,501.1 80.4,502.0 88.6,504.5 C96.8,507.0 114.4,509.8 123.0,512.1 C131.6,514.4 132.0,515.1 140.2,518.2 C148.4,521.4 161.5,526.4 172.2,531.0 C182.9,535.6 194.2,542.5 204.3,546.0 C214.4,549.5 225.6,550.1 232.7,551.7 C239.8,553.3 242.2,554.7 246.9,555.7 C251.6,556.7 256.4,557.5 261.1,557.8 C265.8,558.1 270.2,557.8 275.3,557.6 C280.4,557.4 285.1,557.4 291.5,556.6 C297.9,555.9 308.7,554.2 313.8,553.1 C318.9,552.0 317.2,552.8 321.9,550.1 C326.6,547.4 333.8,541.6 342.2,536.9 C350.6,532.2 362.5,525.9 372.6,521.7 C382.7,517.5 394.6,514.4 403.0,511.6 C411.4,508.8 416.6,506.9 423.3,504.9 C430.1,502.9 437.1,501.4 443.5,499.8 C449.9,498.2 450.7,495.8 461.8,495.0 C472.9,494.2 498.7,495.3 510.0,495.2 C521.3,495.1 524.2,495.5 529.6,494.6 C535.0,493.7 536.0,492.7 542.5,489.7 C549.0,486.7 559.8,480.9 568.4,476.7 C577.0,472.5 584.6,469.0 594.3,464.7 C604.0,460.4 615.9,455.8 626.7,450.8 C637.5,445.8 648.3,439.7 659.1,434.6 C669.9,429.5 684.7,423.2 691.5,420.0 C698.3,416.8 693.0,418.4 700.0,415.5 C707.0,412.6 722.5,406.0 733.8,402.6 C745.1,399.2 756.3,398.0 767.6,394.9 C778.9,391.8 790.1,387.8 801.4,384.1 C812.6,380.4 827.2,375.0 835.1,372.9 C843.0,370.8 840.7,373.3 848.6,371.2 C856.5,369.1 873.4,363.8 882.4,360.4 C891.4,357.0 894.8,354.6 902.7,350.9 C910.6,347.2 923.5,340.8 929.7,338.4 C935.9,336.0 934.7,337.8 940.0,336.6 C945.3,335.4 951.5,333.8 961.6,331.2 C971.7,328.6 986.1,324.8 1000.5,321.1 C1014.9,317.4 1034.8,312.7 1048.1,308.8 C1061.4,304.9 1069.7,302.0 1080.5,297.7 C1091.3,293.4 1105.1,286.4 1113.0,282.8 C1120.9,279.2 1120.9,279.3 1128.1,276.1 C1135.3,272.9 1147.2,267.4 1156.2,263.8 C1165.2,260.2 1177.9,256.2 1182.2,254.7" fill="none" stroke="#b01c1c" stroke-width="1.6" stroke-linecap="round" stroke-linejoin="round"/>
<line x1="875.3" y1="35.4" x2="1436.6" y2="35.4" stroke="#16168c" stroke-width="1.05" stroke-dasharray="2.9 2.54"/>
<line x1="875.3" y1="82.4" x2="1436.6" y2="82.4" stroke="#16168c" stroke-width="1.05" stroke-dasharray="2.9 2.54"/>
<line x1="875.3" y1="110.6" x2="1436.6" y2="110.6" stroke="#16168c" stroke-width="1.05" stroke-dasharray="2.9 2.54"/>
<line x1="875.3" y1="134.2" x2="1436.6" y2="134.2" stroke="#16168c" stroke-width="1.05" stroke-dasharray="2.9 2.54"/>
<line x1="875.3" y1="156.3" x2="1436.6" y2="156.3" stroke="#16168c" stroke-width="1.05" stroke-dasharray="2.9 2.54"/>
<line x1="875.3" y1="185.6" x2="1436.6" y2="185.6" stroke="#16168c" stroke-width="1.05" stroke-dasharray="2.9 2.54"/>
<line x1="875.3" y1="231.5" x2="1436.6" y2="231.5" stroke="#16168c" stroke-width="1.05" stroke-dasharray="2.9 2.54"/>
<line x1="875.2" y1="35.9" x2="1093.9" y2="231.5" stroke="#d02c44" stroke-width="1.05" stroke-dasharray="3.4 4.1"/>
<line x1="0" y1="276.9" x2="1438" y2="276.9" stroke="#f01818" stroke-width="1.7"/>
<line x1="867.7" y1="29.8" x2="1168.3" y2="104.6" stroke="#3560d8" stroke-width="2.75" stroke-linecap="round"/>
<line x1="759" y1="263.2" x2="1182.4" y2="179.2" stroke="#3560d8" stroke-width="2.75" stroke-linecap="round"/>
<line x1="591.2" y1="394.3" x2="1233" y2="230.9" stroke="#3560d8" stroke-width="2.75" stroke-linecap="round"/>
<line x1="1160.7" y1="115.2" x2="1181.9" y2="154.6" stroke="#22b14c" stroke-width="3.8" stroke-linecap="round"/>
<polyline points="1207.8,152.6 1228.8,55.5" fill="none" stroke="#22b14c" stroke-width="3.8" stroke-linecap="round"/>
<polyline points="1216.4,74.7 1228.8,55 1234.9,75.8" fill="none" stroke="#22b14c" stroke-width="3.8" stroke-linecap="round" stroke-linejoin="round"/>
<text x="1437" y="33.4" text-anchor="end" fill="#2222c8" stroke="#2222c8" stroke-width="0.22">100.0 111.129</text>
<text x="1437" y="80.4" text-anchor="end" fill="#2222c8" stroke="#2222c8" stroke-width="0.22">0.764 110.921</text>
<text x="1437" y="108.6" text-anchor="end" fill="#2222c8" stroke="#2222c8" stroke-width="0.22">61.8 110.793</text>
<text x="1437" y="132.2" text-anchor="end" fill="#2222c8" stroke="#2222c8" stroke-width="0.22">50.0 110.689</text>
<text x="1437" y="154.3" text-anchor="end" fill="#2222c8" stroke="#2222c8" stroke-width="0.22">38.2 110.585</text>
<text x="1437" y="183.6" text-anchor="end" fill="#2222c8" stroke="#2222c8" stroke-width="0.22">23.6 110.456</text>
<text x="1437" y="229.5" text-anchor="end" fill="#2222c8" stroke="#2222c8" stroke-width="0.22">0.0 110.249</text>
<rect x="0" y="636" width="1438" height="1.9" fill="#8c8c8c"/>
<rect x="0" y="637.85" width="1439" height="1.1" fill="#222"/>
<line x1="0.6" y1="662.7" x2="1437.5" y2="662.7" stroke="#a2a2a2" stroke-width="1" stroke-dasharray="2.8 2.63"/>
<line x1="0.6" y1="697.4" x2="1437.5" y2="697.4" stroke="#a2a2a2" stroke-width="1" stroke-dasharray="2.8 2.63"/>
<line x1="0.6" y1="732.4" x2="1437.5" y2="732.4" stroke="#a2a2a2" stroke-width="1" stroke-dasharray="2.8 2.63"/>
<polyline points="0.4,686.5 7.7,693.6 15.0,691.2 22.3,687.5 29.6,681.8 36.9,680.0 44.2,680.0 51.5,675.3 58.8,680.4 66.1,673.9 73.4,676.4 80.6,685.5 87.9,684.5 95.2,681.4 102.5,681.4 109.8,683.4 117.1,682.4 124.4,683.4 131.7,692.6 139.0,691.2 146.3,691.2 153.6,696.6 160.9,694.2 168.2,685.5 175.5,686.9 182.8,686.1 190.1,680.8 197.4,695.6 204.7,692.0 212.0,695.2 219.2,692.0 226.5,687.5 233.8,694.2 241.1,691.2 248.4,693.0 255.7,689.1 263.0,687.5 270.3,687.5 277.6,684.5 284.9,689.5 292.2,698.7 299.5,703.1 306.8,706.8 314.1,703.7 321.4,702.7 328.7,707.8 336.0,705.1 343.3,709.4 350.6,703.7 357.9,698.0 365.1,697.2 372.4,700.3 379.7,700.3 387.0,705.1 394.3,705.1 401.6,700.7 408.9,692.2 416.2,693.6 423.5,710.4 430.8,713.9 438.1,717.5 445.4,721.4 452.7,721.4 460.0,710.4 467.3,709.2 474.6,710.4 481.9,706.8 489.2,705.3 496.5,702.1 503.8,684.5 511.0,687.5 518.3,685.5 525.6,680.8 532.9,677.8 540.2,674.7 547.5,679.0 554.8,681.0 562.1,677.4 569.4,686.5 576.7,681.8 584.0,686.5 591.3,685.1 598.6,684.5 605.9,683.0 613.2,692.6 620.5,696.6 627.8,692.2 635.1,693.6 642.4,686.9 649.7,693.0 656.9,688.5 664.2,686.5 671.5,696.6 678.8,695.2 686.1,694.2 693.4,698.2 700.7,697.2 708.0,693.2 715.3,694.6 722.6,699.1 729.9,698.0 737.2,695.2 744.5,687.5 751.8,679.4 759.1,676.0 766.4,673.7 773.7,679.4 781.0,676.4 788.3,673.9 795.6,674.7 802.9,681.8 810.1,679.4 817.4,681.8 824.7,678.4 832.0,677.0 839.3,675.3 846.6,671.3 853.9,669.9 861.2,667.8 868.5,668.9 875.8,668.0 883.1,670.3 890.4,692.6 897.7,693.6 905.0,698.7 912.3,704.3 919.6,704.3 926.9,701.3 934.2,693.6 941.5,693.6 948.8,699.7 956.0,695.2 963.3,695.2 970.6,695.2 977.9,692.6 985.2,694.2 992.5,692.6 999.8,697.6 1007.1,691.6 1014.4,685.5 1021.7,692.0 1029.0,699.1 1036.3,694.6 1043.6,684.5 1050.9,684.5 1058.2,688.1 1065.5,688.5 1072.8,695.6 1080.1,688.5 1087.4,694.6 1094.7,693.6 1101.9,695.2 1109.2,698.7 1116.5,691.6 1123.8,697.0 1131.1,695.6 1138.4,693.6" fill="none" stroke="#8e46cc" stroke-width="1.15" stroke-linejoin="round" stroke-linecap="round"/>
<text x="3.6" y="649.4" font-size="8.46" fill="#111" stroke="#111" stroke-width="0.22">RSI(14) 53.2454</text>
<rect x="0" y="755.2" width="1439" height="1.7" fill="#585858"/>
<rect x="1438.1" y="3" width="1.1" height="753.9" fill="#111"/>
<rect x="1439" y="30.1" width="2" height="1" fill="#111"/>
<text x="1443.8" y="34.0" fill="#111" stroke="#111" stroke-width="0.22">111.150</text>
<rect x="1439" y="57.9" width="2" height="1" fill="#111"/>
<text x="1443.8" y="61.8" fill="#111" stroke="#111" stroke-width="0.22">111.025</text>
<rect x="1439" y="86.8" width="2" height="1" fill="#111"/>
<text x="1443.8" y="90.7" fill="#111" stroke="#111" stroke-width="0.22">110.895</text>
<rect x="1439" y="115.8" width="2" height="1" fill="#111"/>
<text x="1443.8" y="119.7" fill="#111" stroke="#111" stroke-width="0.22">110.765</text>
<rect x="1439" y="144.7" width="2" height="1" fill="#111"/>
<text x="1443.8" y="148.6" fill="#111" stroke="#111" stroke-width="0.22">110.635</text>
<rect x="1439" y="173.6" width="2" height="1" fill="#111"/>
<text x="1443.8" y="177.5" fill="#111" stroke="#111" stroke-width="0.22">110.505</text>
<rect x="1439" y="202.5" width="2" height="1" fill="#111"/>
<text x="1443.8" y="206.4" fill="#111" stroke="#111" stroke-width="0.22">110.375</text>
<rect x="1439" y="230.4" width="2" height="1" fill="#111"/>
<text x="1443.8" y="234.3" fill="#111" stroke="#111" stroke-width="0.22">110.250</text>
<rect x="1439" y="259.3" width="2" height="1" fill="#111"/>
<text x="1443.8" y="263.2" fill="#111" stroke="#111" stroke-width="0.22">110.120</text>
<rect x="1439" y="288.2" width="2" height="1" fill="#111"/>
<text x="1443.8" y="292.1" fill="#111" stroke="#111" stroke-width="0.22">109.990</text>
<rect x="1439" y="317.1" width="2" height="1" fill="#111"/>
<text x="1443.8" y="321.0" fill="#111" stroke="#111" stroke-width="0.22">109.860</text>
<rect x="1439" y="344.9" width="2" height="1" fill="#111"/>
<text x="1443.8" y="348.8" fill="#111" stroke="#111" stroke-width="0.22">109.735</text>
<rect x="1439" y="373.9" width="2" height="1" fill="#111"/>
<text x="1443.8" y="377.8" fill="#111" stroke="#111" stroke-width="0.22">109.605</text>
<rect x="1439" y="402.8" width="2" height="1" fill="#111"/>
<text x="1443.8" y="406.7" fill="#111" stroke="#111" stroke-width="0.22">109.475</text>
<rect x="1439" y="431.7" width="2" height="1" fill="#111"/>
<text x="1443.8" y="435.6" fill="#111" stroke="#111" stroke-width="0.22">109.345</text>
<rect x="1439" y="460.6" width="2" height="1" fill="#111"/>
<text x="1443.8" y="464.5" fill="#111" stroke="#111" stroke-width="0.22">109.215</text>
<rect x="1439" y="489.6" width="2" height="1" fill="#111"/>
<text x="1443.8" y="493.5" fill="#111" stroke="#111" stroke-width="0.22">109.085</text>
<rect x="1439" y="517.4" width="2" height="1" fill="#111"/>
<text x="1443.8" y="521.3" fill="#111" stroke="#111" stroke-width="0.22">108.960</text>
<rect x="1439" y="546.3" width="2" height="1" fill="#111"/>
<text x="1443.8" y="550.2" fill="#111" stroke="#111" stroke-width="0.22">108.830</text>
<rect x="1439" y="575.2" width="2" height="1" fill="#111"/>
<text x="1443.8" y="579.1" fill="#111" stroke="#111" stroke-width="0.22">108.700</text>
<rect x="1439" y="604.2" width="2" height="1" fill="#111"/>
<text x="1443.8" y="608.1" fill="#111" stroke="#111" stroke-width="0.22">108.570</text>
<rect x="1439" y="633.1" width="2" height="1" fill="#111"/>
<text x="1443.8" y="637.0" fill="#111" stroke="#111" stroke-width="0.22">108.440</text>
<text x="1441.1" y="647.8" font-size="7.95" fill="#111" stroke="#111" stroke-width="0.22">100</text>
<text x="1441.1" y="665.7" font-size="7.95" fill="#111" stroke="#111" stroke-width="0.22">80</text>
<text x="1441.1" y="700.1" font-size="7.95" fill="#111" stroke="#111" stroke-width="0.22">50</text>
<text x="1441.1" y="735.7" font-size="7.95" fill="#111" stroke="#111" stroke-width="0.22">20</text>
<text x="1441.1" y="752.2" font-size="7.95" fill="#111" stroke="#111" stroke-width="0.22">0</text>
<rect x="1440" y="116.2" width="36.8" height="9.5" fill="#000"/>
<text x="1444" y="124.1" font-size="8.45" fill="#fff" stroke="#fff" stroke-width="0.22">110.744</text>
<rect x="1440" y="272.3" width="37" height="8.7" fill="#ee1c1c"/>
<text x="1444" y="279.7" font-size="8.45" fill="#fff" stroke="#fff" stroke-width="0.22">110.043</text>
<rect x="-0.1" y="756" width="1" height="2.6" fill="#111"/>
<text x="-0.2" y="767" font-size="8.31" fill="#111" stroke="#111" stroke-width="0.22">17 Jan 2019</text>
<rect x="58.3" y="756" width="1" height="2.6" fill="#111"/>
<text x="58.2" y="767" font-size="8.31" fill="#111" stroke="#111" stroke-width="0.22">18 Jan 12:00</text>
<rect x="116.6" y="756" width="1" height="2.6" fill="#111"/>
<text x="116.5" y="767" font-size="8.31" fill="#111" stroke="#111" stroke-width="0.22">21 Jan 20:00</text>
<rect x="175.0" y="756" width="1" height="2.6" fill="#111"/>
<text x="174.9" y="767" font-size="8.31" fill="#111" stroke="#111" stroke-width="0.22">23 Jan 04:00</text>
<rect x="233.3" y="756" width="1" height="2.6" fill="#111"/>
<text x="233.2" y="767" font-size="8.31" fill="#111" stroke="#111" stroke-width="0.22">24 Jan 12:00</text>
<rect x="291.7" y="756" width="1" height="2.6" fill="#111"/>
<text x="291.6" y="767" font-size="8.31" fill="#111" stroke="#111" stroke-width="0.22">25 Jan 20:00</text>
<rect x="350.1" y="756" width="1" height="2.6" fill="#111"/>
<text x="350.0" y="767" font-size="8.31" fill="#111" stroke="#111" stroke-width="0.22">29 Jan 04:00</text>
<rect x="408.4" y="756" width="1" height="2.6" fill="#111"/>
<text x="408.3" y="767" font-size="8.31" fill="#111" stroke="#111" stroke-width="0.22">30 Jan 12:00</text>
<rect x="466.8" y="756" width="1" height="2.6" fill="#111"/>
<text x="466.7" y="767" font-size="8.31" fill="#111" stroke="#111" stroke-width="0.22">31 Jan 20:00</text>
<rect x="525.1" y="756" width="1" height="2.6" fill="#111"/>
<text x="525.0" y="767" font-size="8.31" fill="#111" stroke="#111" stroke-width="0.22">4 Feb 04:00</text>
<rect x="583.5" y="756" width="1" height="2.6" fill="#111"/>
<text x="583.4" y="767" font-size="8.31" fill="#111" stroke="#111" stroke-width="0.22">5 Feb 12:00</text>
<rect x="641.9" y="756" width="1" height="2.6" fill="#111"/>
<text x="641.8" y="767" font-size="8.31" fill="#111" stroke="#111" stroke-width="0.22">6 Feb 20:00</text>
<rect x="700.2" y="756" width="1" height="2.6" fill="#111"/>
<text x="700.1" y="767" font-size="8.31" fill="#111" stroke="#111" stroke-width="0.22">8 Feb 04:00</text>
<rect x="758.6" y="756" width="1" height="2.6" fill="#111"/>
<text x="758.5" y="767" font-size="8.31" fill="#111" stroke="#111" stroke-width="0.22">11 Feb 12:00</text>
<rect x="816.9" y="756" width="1" height="2.6" fill="#111"/>
<text x="816.8" y="767" font-size="8.31" fill="#111" stroke="#111" stroke-width="0.22">12 Feb 20:00</text>
<rect x="875.3" y="756" width="1" height="2.6" fill="#111"/>
<text x="875.2" y="767" font-size="8.31" fill="#111" stroke="#111" stroke-width="0.22">14 Feb 04:00</text>
<rect x="933.7" y="756" width="1" height="2.6" fill="#111"/>
<text x="933.6" y="767" font-size="8.31" fill="#111" stroke="#111" stroke-width="0.22">15 Feb 12:00</text>
<rect x="992.0" y="756" width="1" height="2.6" fill="#111"/>
<text x="991.9" y="767" font-size="8.31" fill="#111" stroke="#111" stroke-width="0.22">18 Feb 20:00</text>
<rect x="1050.4" y="756" width="1" height="2.6" fill="#111"/>
<text x="1050.3" y="767" font-size="8.31" fill="#111" stroke="#111" stroke-width="0.22">20 Feb 04:00</text>
<rect x="1108.7" y="756" width="1" height="2.6" fill="#111"/>
<text x="1108.6" y="767" font-size="8.31" fill="#111" stroke="#111" stroke-width="0.22">21 Feb 12:00</text>
<polygon points="3.4,8.7 8.9,8.7 6.15,11.8" fill="#111"/>
<text x="13.9" y="12.9" fill="#111" stroke="#111" stroke-width="0.22" xml:space="preserve">USDJPY,H4  110.705 110.761 110.702 110.744</text>
</svg>
</body></html>
